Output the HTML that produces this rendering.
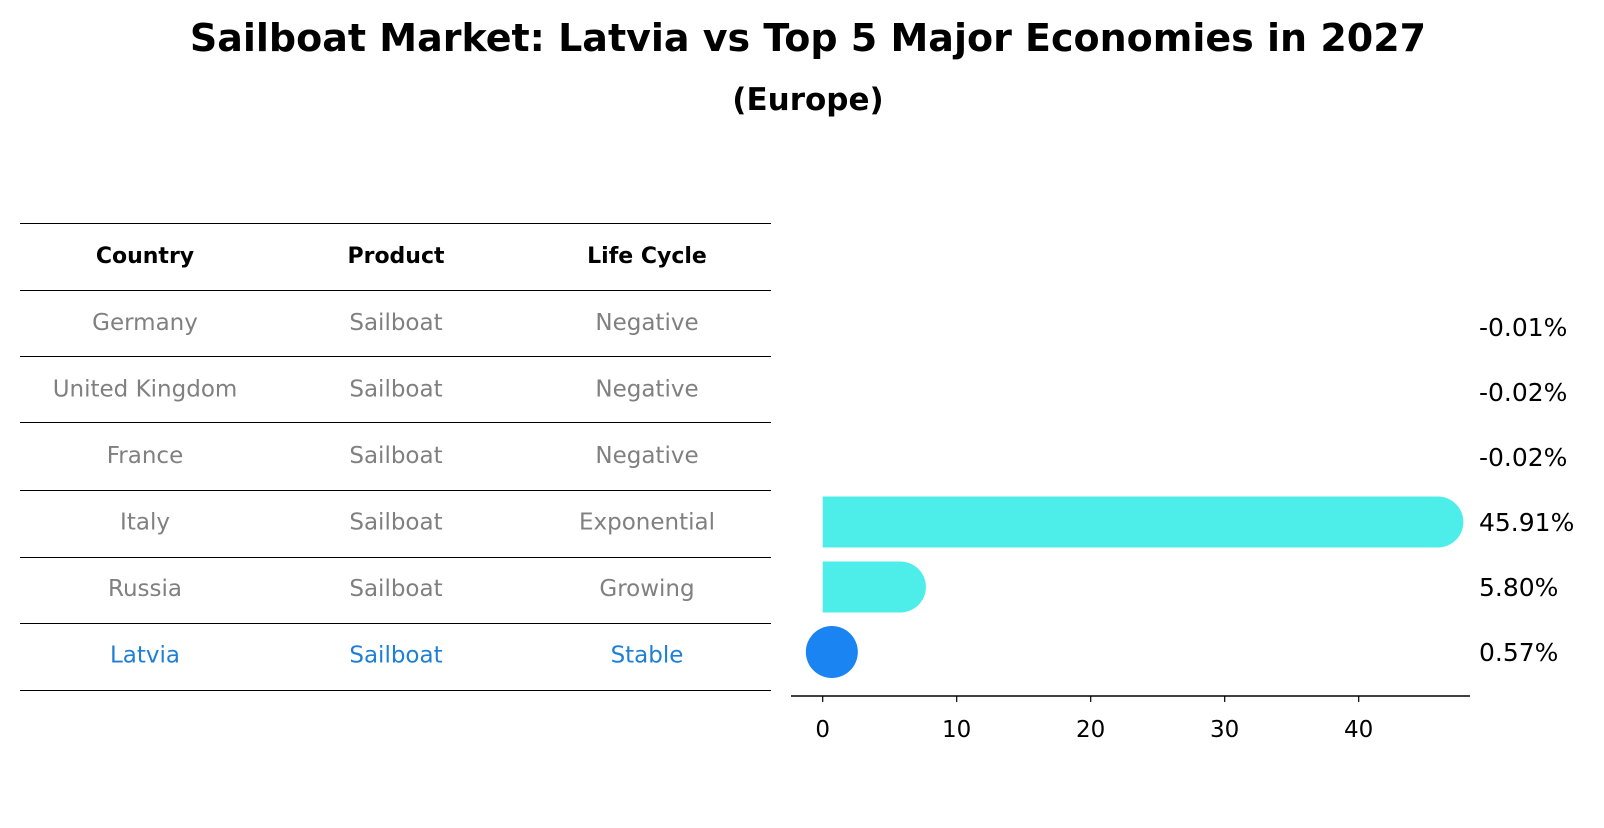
<!DOCTYPE html>
<html><head><meta charset="utf-8">
<style>
body{margin:0;background:#fff;font-family:"Liberation Sans","DejaVu Sans",sans-serif;}
svg text{font-family:"DejaVu Sans","Liberation Sans",sans-serif;}
</style></head>
<body>
<svg id="chart" width="1604" height="823" viewBox="0 0 1604 823" xmlns="http://www.w3.org/2000/svg">
<text x="808" y="51" text-anchor="middle" font-size="38" font-weight="bold">Sailboat Market: Latvia vs Top 5 Major Economies in 2027</text>
<text x="808" y="110" text-anchor="middle" font-size="31" font-weight="bold">(Europe)</text>
<g id="table"></g>
<g id="bars"></g>
</svg>
<script>
const countries = ["Germany","United Kingdom","France","Italy","Russia","Latvia"];
const products = ["Sailboat","Sailboat","Sailboat","Sailboat","Sailboat","Sailboat"];
const lifeCycles = ["Negative","Negative","Negative","Exponential","Growing","Stable"];
const growth = [-0.01,-0.02,-0.02,45.91,5.80,0.57];
const growthLabels = ["-0.01%","-0.02%","-0.02%","45.91%","5.80%","0.57%"];
const xTicks = [0,10,20,30,40];

const NS="http://www.w3.org/2000/svg";
function mk(tag,attrs,parent){const e=document.createElementNS(NS,tag);for(const k in attrs)e.setAttribute(k,attrs[k]);parent.appendChild(e);return e;}
const table=document.getElementById('table');
const bars=document.getElementById('bars');
const rowY=i=>327+i*65;
const xs=v=>822.7+v*13.4;

// table
const lineYs=[223,290,356,422,490,557,623,690];
lineYs.forEach((y,i)=>{const l=mk('line',{x1:20,x2:771,y1:y+0.5,y2:y+0.5,stroke:'#000','stroke-width':1},table);

});
const colX=[145,396,647];
["Country","Product","Life Cycle"].forEach((h,j)=>{const t=mk('text',{x:colX[j],y:263,'text-anchor':'middle','font-size':22,'font-weight':'bold'},table);t.textContent=h;

});
countries.forEach((c,i)=>{
  const y=330+i*66.5;
  const col=c==="Latvia"?"#1f7fd6":"#808080";
  [c,products[i],lifeCycles[i]].forEach((v,j)=>{const t=mk('text',{x:colX[j],y:y,'text-anchor':'middle','font-size':23,fill:col},table);t.textContent=v;
  
  });
});

// bars
const H=51,R=25.5;
growth.forEach((v,i)=>{
  const cy=rowY(i);
  const col=countries[i]==="Latvia"?"#1a84f2":"#4dedea";
  const x0=Math.min(xs(0),xs(v)),x1=Math.max(xs(0),xs(v));
  if(v>1){
    const p=mk('path',{d:`M${x0},${cy-H/2} L${x1},${cy-H/2} A${R},${H/2} 0 0 1 ${x1},${cy+H/2} L${x0},${cy+H/2} Z`,fill:col},bars);
    
    
  } else if(v>0){
    const c=mk('circle',{cx:xs(v)+1.5,cy:cy,r:26,fill:col},bars);
    
    
  } else {
    const r=mk('rect',{x:x0,y:cy-H/2,width:x1-x0,height:H,fill:col,opacity:(x1-x0)<1?0:1},bars);
    
    
  }
  const t=mk('text',{x:1479,y:cy+9,'font-size':25},bars);t.textContent=growthLabels[i];
  
  
});
const ax=mk('line',{x1:791,x2:1470,y1:696,y2:696,stroke:'#000','stroke-width':1.5},bars);


xTicks.forEach(v=>{
  const l=mk('line',{x1:xs(v),x2:xs(v),y1:696,y2:702,stroke:'#000','stroke-width':1.2},bars);
  
  
  const t=mk('text',{x:xs(v),y:737,'text-anchor':'middle','font-size':23},bars);t.textContent=v;
  
  
});
</script>
</body></html>
